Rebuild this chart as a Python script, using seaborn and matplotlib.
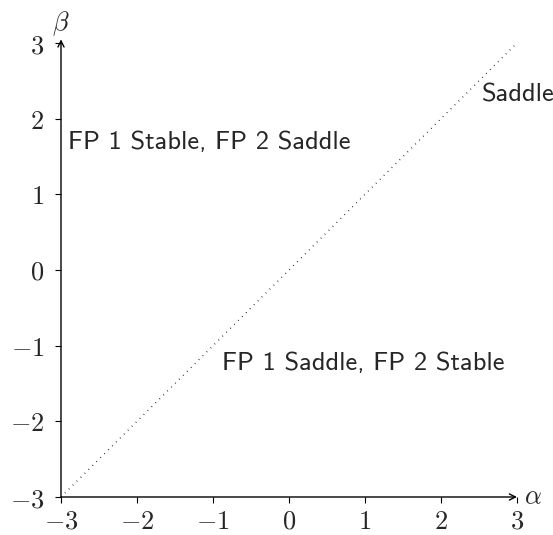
import matplotlib
matplotlib.use("Agg")
import matplotlib.pyplot as plt
import seaborn as sns

# boundary line alpha = beta
line_alpha = [-3, 3]
line_beta = [-3, 3]
ticks = [-3, -2, -1, 0, 1, 2, 3]

# region labels (text, x, y, ha)
labels = [
    ("Saddle", 3.49, 2.31, "right"),
    ("FP 1 Stable, FP 2 Saddle", -2.91, 1.69, "left"),
    ("FP 1 Saddle, FP 2 Stable", -0.88, -1.23, "left"),
]

sns.set_theme(style="white")
plt.rcParams["mathtext.fontset"] = "cm"
plt.rcParams["axes.formatter.use_mathtext"] = True

fig = plt.figure(figsize=(5.53, 5.35), dpi=100)
ax = fig.add_axes([61 / 553, 38 / 535, 456 / 553, 454 / 535])

sns.lineplot(x=line_alpha, y=line_beta, ax=ax, color="black",
             linestyle=(0, (0.5, 3.5)), linewidth=1.0)

ax.set_xlim(-3, 3)
ax.set_ylim(-3, 3)
ax.set_xticks(ticks)
ax.set_yticks(ticks)
ax.set_xticklabels([r"$%d$" % t for t in ticks])
ax.set_yticklabels([r"$%d$" % t for t in ticks])
ax.tick_params(axis="both", which="major", direction="out", length=4.5,
               width=0.8, color="black", labelsize=19,
               bottom=True, left=True)
ax.tick_params(axis="x", pad=4)
ax.tick_params(axis="y", pad=7.5)

for s in ax.spines.values():
    s.set_visible(False)

arrow = dict(arrowstyle="->", lw=1.0, color="black",
             shrinkA=0, shrinkB=0, mutation_scale=11)
ax.annotate("", xy=(1.0, 0), xytext=(0, 0), xycoords="axes fraction",
            textcoords="axes fraction", arrowprops=arrow, annotation_clip=False)
ax.annotate("", xy=(0, 1.008), xytext=(0, 0), xycoords="axes fraction",
            textcoords="axes fraction", arrowprops=arrow, annotation_clip=False)

ax.text(1.016, 0.0, r"$\alpha$", transform=ax.transAxes, fontsize=19,
        ha="left", va="center")
ax.text(0.0, 1.042, r"$\beta$", transform=ax.transAxes, fontsize=19,
        ha="center", va="center")

for txt, x, y, ha in labels:
    ax.text(x, y, txt, fontsize=19, family="cmss10",
            ha=ha, va="center", clip_on=False)

fig.savefig("out.png", dpi=100)
